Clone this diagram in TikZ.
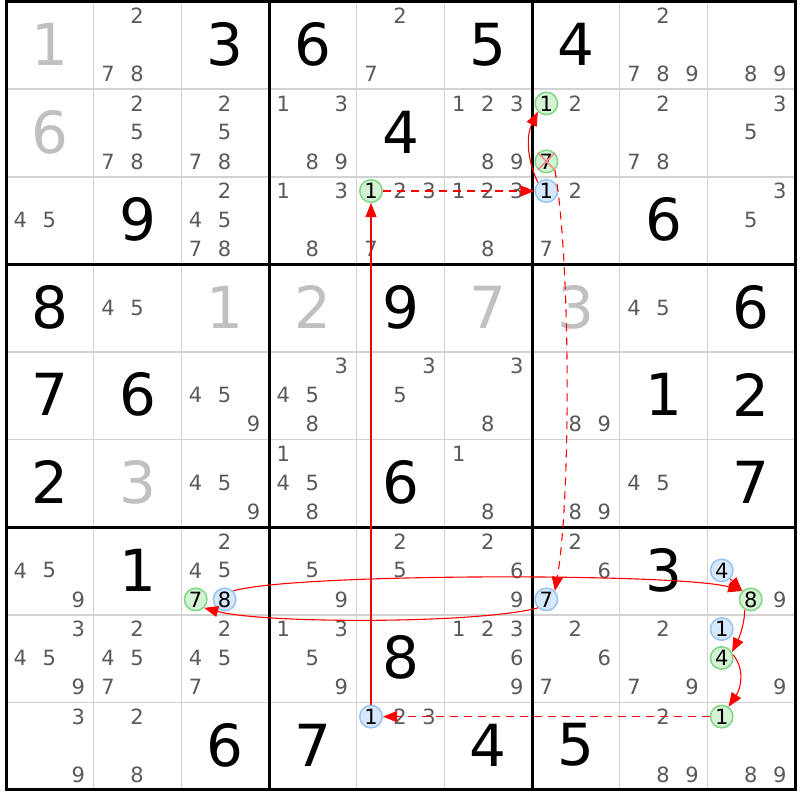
\documentclass[tikz,border=0pt]{standalone}
\usepackage{fontspec}
\setmainfont{DejaVu Sans}
\usetikzlibrary{arrows.meta}
\definecolor{candc}{HTML}{5A5A5A}
\definecolor{givc}{HTML}{C0C0C0}
\definecolor{gfill}{HTML}{D4F2D4}
\definecolor{gline}{HTML}{80D684}
\definecolor{bfill}{HTML}{D6E8FB}
\definecolor{bline}{HTML}{98C4F0}
\definecolor{gridc}{HTML}{D2D2D2}
\definecolor{xred}{HTML}{F08C8C}
\newcommand\candfont{\fontsize{21}{25}\selectfont}
\newcommand\bigfont{\fontsize{58}{62}\selectfont}
\tikzset{
  cand/.style={inner sep=0pt, font=\candfont, text=candc},
  bigd/.style={inner sep=0pt, font=\bigfont},
  gc/.style={circle, draw=gline, fill=gfill, line width=1.5pt, minimum size=22.5pt, inner sep=0pt, font=\candfont, text=black},
  bc/.style={circle, draw=bline, fill=bfill, line width=1.5pt, minimum size=22.5pt, inner sep=0pt, font=\candfont, text=black},
  link/.style={red, line width=1.1pt, -{Triangle[length=14pt,width=11pt]}},
  weak/.style={link, dash pattern=on 8pt off 6pt},
  thin/.style={gridc, line width=1.6pt},
  thick/.style={black, line width=3pt},
}
\newcommand\sol[4]{\node[bigd,text=#4] (s#1#2) at ({6+87.67*(#2-0.5)},{1.5+87.6*(#1-0.5)-1}) {#3};}
\newcommand\cands[3]{%
  \foreach \d in {#3}{%
    \pgfmathsetmacro\ox{mod(\d-1,3)-1}%
    \pgfmathsetmacro\oy{int((\d-1)/3)-1}%
    \node[cand] (c#1#2\d) at ({6+87.67*(#2-0.5)+29*\ox-0.5},{1.5+87.6*(#1-0.5)+29*\oy-0.5}) {\d};
  }}
\newcommand\ccand[4]{%
  \pgfmathsetmacro\ox{mod(#3-1,3)-1}%
  \pgfmathsetmacro\oy{int((#3-1)/3)-1}%
  \node[#4] (c#1#2#3) at ({6+87.67*(#2-0.5)+29*\ox-0.5},{1.5+87.6*(#1-0.5)+29*\oy-0.5}) {#3};}
\begin{document}
\begin{tikzpicture}[x=1pt,y=-1pt]
\fill[white] (0,0) rectangle (800,800);
\useasboundingbox (0,0) rectangle (800,800);
% grid
\foreach \i in {1,2,4,5,7,8}{
  \draw[thin] ({6+87.67*\i},1.5) -- ({6+87.67*\i},789.9);
  \draw[thin] (6,{1.5+87.6*\i}) -- (795,{1.5+87.6*\i});
}
\foreach \i in {0,3,6,9}{
  \draw[thick] ({6+87.67*\i},0) -- ({6+87.67*\i},791.4);
  \draw[thick] (4.5,{1.5+87.6*\i}) -- (796.5,{1.5+87.6*\i});
}
% solved digits
\sol{1}{1}{1}{givc} \sol{1}{3}{3}{black} \sol{1}{4}{6}{black} \sol{1}{6}{5}{black} \sol{1}{7}{4}{black}
\sol{2}{1}{6}{givc} \sol{2}{5}{4}{black}
\sol{3}{2}{9}{black} \sol{3}{8}{6}{black}
\sol{4}{1}{8}{black} \sol{4}{3}{1}{givc} \sol{4}{4}{2}{givc} \sol{4}{5}{9}{black} \sol{4}{6}{7}{givc} \sol{4}{7}{3}{givc} \sol{4}{9}{6}{black}
\sol{5}{1}{7}{black} \sol{5}{2}{6}{black} \sol{5}{8}{1}{black} \sol{5}{9}{2}{black}
\sol{6}{1}{2}{black} \sol{6}{2}{3}{givc} \sol{6}{5}{6}{black} \sol{6}{9}{7}{black}
\sol{7}{2}{1}{black} \sol{7}{8}{3}{black}
\sol{8}{5}{8}{black}
\sol{9}{3}{6}{black} \sol{9}{4}{7}{black} \sol{9}{6}{4}{black} \sol{9}{7}{5}{black}
% candidates
\cands{1}{2}{2,7,8} \cands{1}{5}{2,7} \cands{1}{8}{2,7,8,9} \cands{1}{9}{8,9}
\cands{2}{2}{2,5,7,8} \cands{2}{3}{2,5,7,8} \cands{2}{4}{1,3,8,9} \cands{2}{6}{1,2,3,8,9} \cands{2}{7}{2} \cands{2}{8}{2,7,8} \cands{2}{9}{3,5}
\cands{3}{1}{4,5} \cands{3}{3}{2,4,5,7,8} \cands{3}{4}{1,3,8} \cands{3}{5}{2,3,7} \cands{3}{6}{1,2,3,8} \cands{3}{7}{2,7} \cands{3}{9}{3,5}
\cands{4}{2}{4,5} \cands{4}{8}{4,5}
\cands{5}{3}{4,5,9} \cands{5}{4}{3,4,5,8} \cands{5}{5}{3,5} \cands{5}{6}{3,8} \cands{5}{7}{8,9}
\cands{6}{3}{4,5,9} \cands{6}{4}{1,4,5,8} \cands{6}{6}{1,8} \cands{6}{7}{8,9} \cands{6}{8}{4,5}
\cands{7}{1}{4,5,9} \cands{7}{3}{2,4,5} \cands{7}{4}{5,9} \cands{7}{5}{2,5} \cands{7}{6}{2,6,9} \cands{7}{7}{2,6} \cands{7}{9}{9}
\cands{8}{1}{3,4,5,9} \cands{8}{2}{2,4,5,7} \cands{8}{3}{2,4,5,7} \cands{8}{4}{1,3,5,9} \cands{8}{6}{1,2,3,6,9} \cands{8}{7}{2,6,7} \cands{8}{8}{2,7,9} \cands{8}{9}{9}
\cands{9}{1}{3,9} \cands{9}{2}{2,8} \cands{9}{5}{2,3} \cands{9}{8}{2,8,9} \cands{9}{9}{8,9}
% chain candidates
\ccand{2}{7}{1}{gc} \ccand{2}{7}{7}{gc}
\ccand{3}{5}{1}{gc} \ccand{3}{7}{1}{bc}
\ccand{7}{3}{7}{gc} \ccand{7}{3}{8}{bc} \ccand{7}{7}{7}{bc} \ccand{7}{9}{4}{bc} \ccand{7}{9}{8}{gc}
\ccand{8}{9}{1}{bc} \ccand{8}{9}{4}{gc}
\ccand{9}{5}{1}{bc} \ccand{9}{9}{1}{gc}
\draw[xred, line width=1.6pt] (c277.north west) -- (c277.south east) (c277.north east) -- (c277.south west);
% links
\draw[link] (c951) -- (c351);
\draw[weak] (c351) -- (c371);
\draw[link] (c371.north west) .. controls +(-12,-25) and +(-11,22) .. (c271.south west);
\draw[weak] (c277.south east) .. controls +(16,90) and +(16,-90) .. (c777.north east);
\draw[link] (c777.south west) .. controls +(-60,16) and +(60,16) .. (c737.south east);
\draw[link] (c738.north east) .. controls +(60,-18) and +(-60,-18) .. (c798.north west);
\draw[link] (c794.south east) -- (c798.north west);
\draw[link] (c798.-120) .. controls +(0,15) and +(6,-12) .. (c894.30);
\draw[link] (c894.15) .. controls +(12,15) and +(12,-18) .. (c991.55);
\draw[weak] (c991) -- (c951);
\end{tikzpicture}
\end{document}
